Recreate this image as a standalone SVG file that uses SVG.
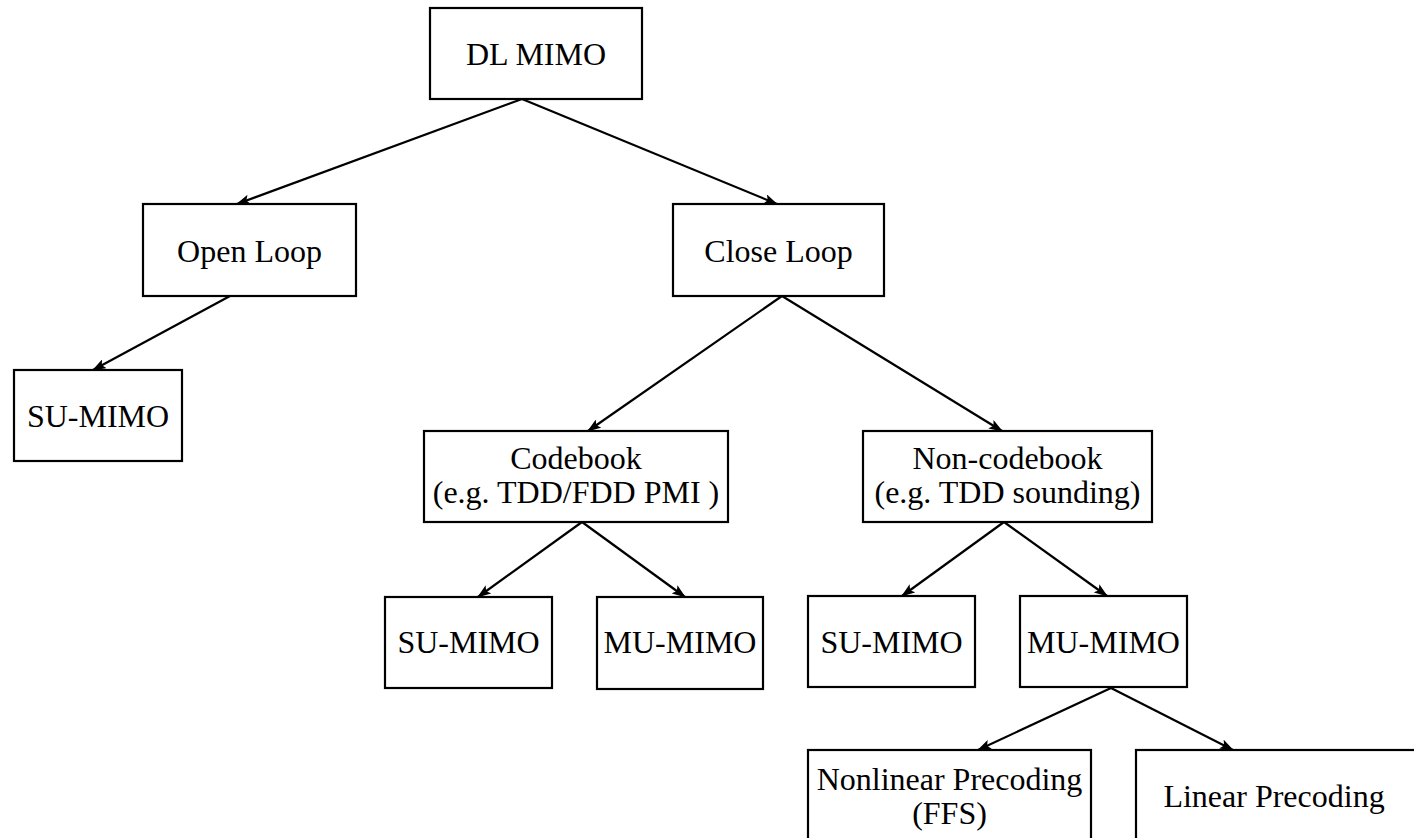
<svg xmlns="http://www.w3.org/2000/svg" width="1414" height="838" viewBox="0 0 1414 838">
<style>
.box{fill:#fff;stroke:#000;stroke-width:2.2}
.t{font-family:"Liberation Serif","Times New Roman",serif;font-size:32px;fill:#000;text-anchor:middle}
.c{stroke:#000;stroke-width:2.2;fill:none;marker-end:url(#ah)}
</style>
<defs>
<marker id="ah" markerUnits="userSpaceOnUse" markerWidth="14" markerHeight="10" refX="13" refY="5" orient="auto">
<path d="M0,0 L14,5 L0,10 L3,5 z" fill="#000"/>
</marker>
</defs>
<rect width="1414" height="838" fill="#fff"/>
<g id="connectors">
<line class="c" x1="522" y1="99" x2="237" y2="204"/>
<line class="c" x1="522" y1="99" x2="777" y2="204"/>
<line class="c" x1="230" y1="296" x2="93" y2="370"/>
<line class="c" x1="782" y1="296" x2="588" y2="431"/>
<line class="c" x1="782" y1="296" x2="1002" y2="431"/>
<line class="c" x1="582" y1="522" x2="478" y2="597"/>
<line class="c" x1="582" y1="522" x2="685" y2="597"/>
<line class="c" x1="1004" y1="522" x2="902" y2="596"/>
<line class="c" x1="1004" y1="522" x2="1107" y2="596"/>
<line class="c" x1="1111" y1="688" x2="978" y2="750"/>
<line class="c" x1="1111" y1="688" x2="1233" y2="750"/>
</g>
<g id="dl-mimo"><rect class="box" x="430" y="8" width="212" height="91"/><text class="t" x="536" y="65">DL MIMO</text></g>
<g id="open-loop"><rect class="box" x="143" y="204" width="213" height="92"/><text class="t" x="249.5" y="262">Open Loop</text></g>
<g id="close-loop"><rect class="box" x="673" y="204" width="211" height="92"/><text class="t" x="778.5" y="262">Close Loop</text></g>
<g id="su-mimo-open"><rect class="box" x="14" y="370" width="168" height="91"/><text class="t" x="98" y="427">SU-MIMO</text></g>
<g id="codebook"><rect class="box" x="424" y="431" width="304" height="91"/><text class="t" x="576" y="469">Codebook</text><text class="t" x="576" y="503">(e.g. TDD/FDD PMI )</text></g>
<g id="non-codebook"><rect class="box" x="863" y="431" width="289" height="91"/><text class="t" x="1007.5" y="469">Non-codebook</text><text class="t" x="1007.5" y="503">(e.g. TDD sounding)</text></g>
<g id="su-mimo-cb"><rect class="box" x="385" y="597" width="167" height="91"/><text class="t" x="468.5" y="653">SU-MIMO</text></g>
<g id="mu-mimo-cb"><rect class="box" x="597" y="597" width="166" height="92"/><text class="t" x="680" y="653">MU-MIMO</text></g>
<g id="su-mimo-ncb"><rect class="box" x="808" y="596" width="167" height="91"/><text class="t" x="891.5" y="653">SU-MIMO</text></g>
<g id="mu-mimo-ncb"><rect class="box" x="1020" y="596" width="167" height="91"/><text class="t" x="1103.5" y="653">MU-MIMO</text></g>
<g id="nonlinear"><rect class="box" x="808" y="750" width="283" height="120"/><text class="t" x="949.5" y="790">Nonlinear Precoding</text><text class="t" x="949.5" y="824">(FFS)</text></g>
<g id="linear"><rect class="box" x="1136" y="750" width="290" height="120"/><text class="t" x="1274" y="807">Linear Precoding</text></g>
</svg>
